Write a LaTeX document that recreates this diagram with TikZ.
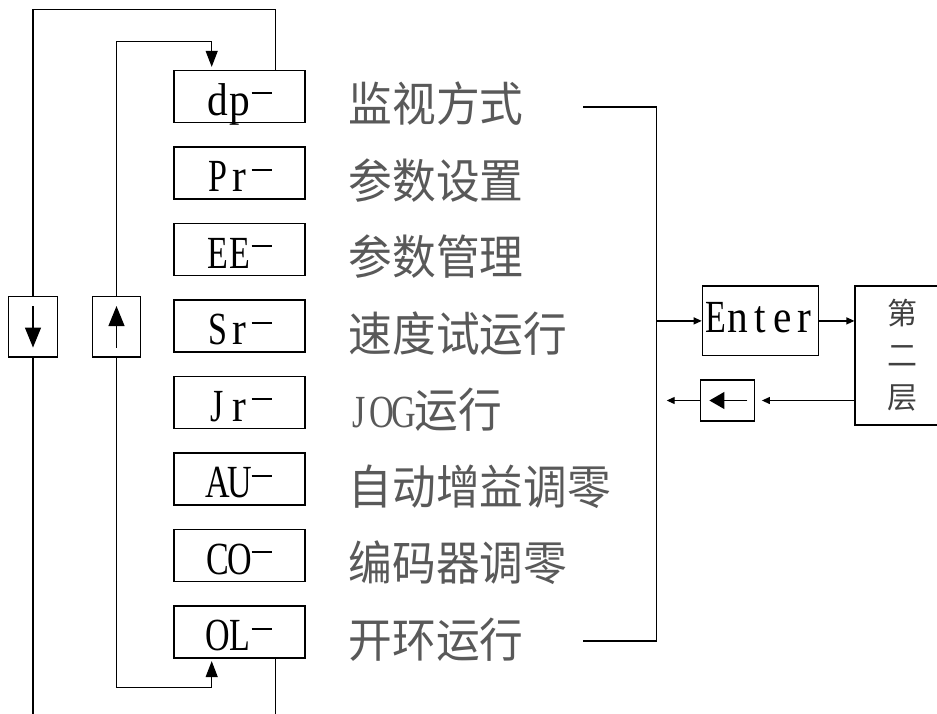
\documentclass[tikz,border=0pt]{standalone}
\usepackage{fontspec}
\setmainfont{Liberation Serif}
\newfontfamily\cjk{Noto Sans CJK SC}
\usetikzlibrary{arrows.meta}
\newcommand\mc[2][0.9]{\makebox[22pt]{\scalebox{#1}[1]{#2}}}
\newcommand\mC[1]{\mc[0.74]{#1}}
\newcommand\dsh{\makebox[22pt]{\rule[21pt]{20pt}{1.8pt}}}
\newcommand\cl[1]{\scalebox{0.93}[1]{\cjk\fontsize{47}{47}\selectfont #1}}
\begin{document}
\begin{tikzpicture}[x=1pt,y=-1pt,line width=1.2pt,
  keybox/.style={draw,minimum width=131pt,minimum height=52pt,inner sep=0pt,
    text height=40pt,text depth=3pt,font=\fontsize{46}{46}\selectfont},
  lab/.style={anchor=base west,inner sep=0pt,text=black!65},
  sarr/.style={-{Triangle[length=8pt,width=7pt]}},
  marr/.style={-{Triangle[length=16pt,width=12pt]}},
  barr/.style={-{Triangle[length=20pt,width=16pt]}}]
\clip (0,0) rectangle (937,713);
\fill[white] (0,0) rectangle (937,713);
% key boxes
\node[keybox] (k0) at (239.5,96.5) {\mc{d}\mc{p}\dsh};
\node[keybox] (k1) at (239.5,173) {\mC{P}\mc{r}\dsh};
\node[keybox] (k2) at (239.5,249.5) {\mC{E}\mC{E}\dsh};
\node[keybox] (k3) at (239.5,326) {\mC{S}\mc{r}\dsh};
\node[keybox] (k4) at (239.5,402.5) {\mC{J}\mc{r}\dsh};
\node[keybox] (k5) at (239.5,479) {\mC{A}\mC{U}\dsh};
\node[keybox] (k6) at (239.5,555.5) {\mC{C}\mC{O}\dsh};
\node[keybox] (k7) at (239.5,632) {\mC{O}\mC{L}\dsh};
% labels
\node[lab] (l0) at (348,121.5) {\cl{监视方式}};
\node[lab] (l1) at (348,198) {\cl{参数设置}};
\node[lab] (l2) at (348,274.5) {\cl{参数管理}};
\node[lab] (l3) at (348,351) {\cl{速度试运行}};
\node[lab] (l4) at (348,427.5) {{\fontsize{46}{46}\selectfont\mC{J}\mC{O}\mC{G}}\cl{运行}};
\node[lab] (l5) at (348,504) {\cl{自动增益调零}};
\node[lab] (l6) at (348,580.5) {\cl{编码器调零}};
\node[lab] (l7) at (348,657) {\cl{开环运行}};
% side arrow boxes
\node[draw,minimum width=48.5pt,minimum height=60.3pt,inner sep=0pt] (dn) at (33,326.8) {};
\node[draw,minimum width=48.5pt,minimum height=60.3pt,inner sep=0pt] (up) at (116.5,326.8) {};
\draw[barr] ([yshift=-10pt]dn.north) -- ([yshift=10pt]dn.south);
\draw[barr] ([yshift=10pt]up.south) -- ([yshift=-10pt]up.north);
% outer loop
\coordinate (o1) at (33,9.5);
\coordinate (o2) at (33,725);
\draw ([xshift=35.8pt]k0.north) |- (o1) -- (dn.north);
\draw (dn.south) -- (o2);
\draw ([xshift=35.8pt]k7.south) -- ++(0,80);
% inner loop
\coordinate (t1) at (211.7,41.7);
\coordinate (t2) at (211.7,687.7);
\draw[marr,shorten >=3pt] (up.north) |- (t1) -- ([xshift=-27.8pt]k0.north);
\draw[marr,shorten >=2.5pt] (up.south) |- (t2) -- ([xshift=-27.8pt]k7.south);
% right part
\node[draw,minimum width=116pt,minimum height=69.7pt,inner sep=0pt,
  text height=32pt,text depth=8pt,font=\fontsize{46}{46}\selectfont] (en) at (760.3,320.9)
  {\mC{E}\mc{n}\mc{t}\mc{e}\mc{r}};
\node[draw,minimum width=95pt,minimum height=139pt,inner sep=0pt,align=center,
  font=\cjk\fontsize{30}{42}\selectfont,text=black!75] (L2) at (902.5,355.5) {第\\二\\层};
\node[draw,minimum width=53.6pt,minimum height=41pt,inner sep=0pt] (bk) at (727.5,400.5) {};
\draw[-{Triangle[length=15pt,width=17pt]}] ([xshift=-7.6pt]bk.east) -- ([xshift=9.3pt]bk.west);
\coordinate (b1) at (583,107);
\coordinate (b2) at (583,641);
\coordinate (j) at (656.7,320.9);
\draw (b1) -| (j) |- (b2);
\draw[sarr] (j) -- (en.west);
\draw[sarr] (en.east) -- (en.east -| L2.west);
\draw[sarr,shorten >=7pt] (L2.west |- bk.east) -- (bk.east);
\coordinate (e1) at (666.7,400.5);
\draw[sarr] (bk.west) -- (e1);
\end{tikzpicture}
\end{document}
